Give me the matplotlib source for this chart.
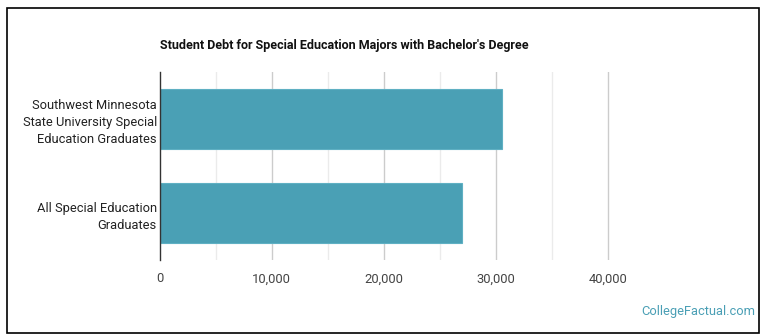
import matplotlib
matplotlib.use("Agg")
import matplotlib.pyplot as plt
from matplotlib.patches import Rectangle
from matplotlib.ticker import FuncFormatter

plt.rcParams['font.family'] = ['Roboto', 'DejaVu Sans']

# data
labels = ["Southwest Minnesota\nState University Special\nEducation Graduates",
          "All Special Education\nGraduates"]
debt = [30600, 27000]
ticks = [0, 10000, 20000, 30000, 40000]

bar_color = "#4aa0b5"

fig = plt.figure(figsize=(7.7, 3.35), dpi=100)
ax = fig.add_axes([159.7 / 770, 1 - 260 / 335, 560 / 770, 187.7 / 335])

ax.barh(range(len(labels)), debt, height=0.64, color=bar_color,
        edgecolor="#5fb0c3", linewidth=0.8, zorder=3)

ax.set_xlim(0, 50000)
ax.set_ylim(1.5, -0.5)
ax.set_xticks(ticks)
ax.xaxis.set_major_formatter(FuncFormatter(lambda v, p: f"{int(v):,}"))
ax.set_yticks(range(len(labels)))
ax.set_yticklabels(labels, fontsize=9.3, color="#222222", linespacing=1.4)

# gridlines: major every 10k, minor every 5k (up to 40k)
for v in range(5000, 45000, 5000):
    c = "#cccccc" if v % 10000 == 0 else "#ebebeb"
    ax.axvline(v, color=c, linewidth=1, zorder=1)

for s in ["top", "right", "bottom"]:
    ax.spines[s].set_visible(False)
ax.spines["left"].set_color("#333333")
ax.spines["left"].set_linewidth(1)
ax.spines["left"].set_zorder(4)
ax.tick_params(axis="both", length=0)
ax.tick_params(axis="x", labelsize=9.4, labelcolor="#444444", pad=9)
ax.tick_params(axis="y", pad=2)

fig.text(160 / 770, 1 - 45 / 335, "Student Debt for Special Education Majors with Bachelor's Degree",
         fontsize=9, fontweight="bold", color="#111111", va="center", ha="left")
fig.text(755 / 770, 1 - 312 / 335, "CollegeFactual.com", fontsize=9.25,
         color="#4a9fb5", ha="right", va="center")

fig.patches.append(Rectangle((7 / 770, 1 - 333 / 335), 752 / 770, 325 / 335,
                             transform=fig.transFigure, fill=False,
                             edgecolor="black", linewidth=1.2))

fig.savefig("out.png", dpi=100)
